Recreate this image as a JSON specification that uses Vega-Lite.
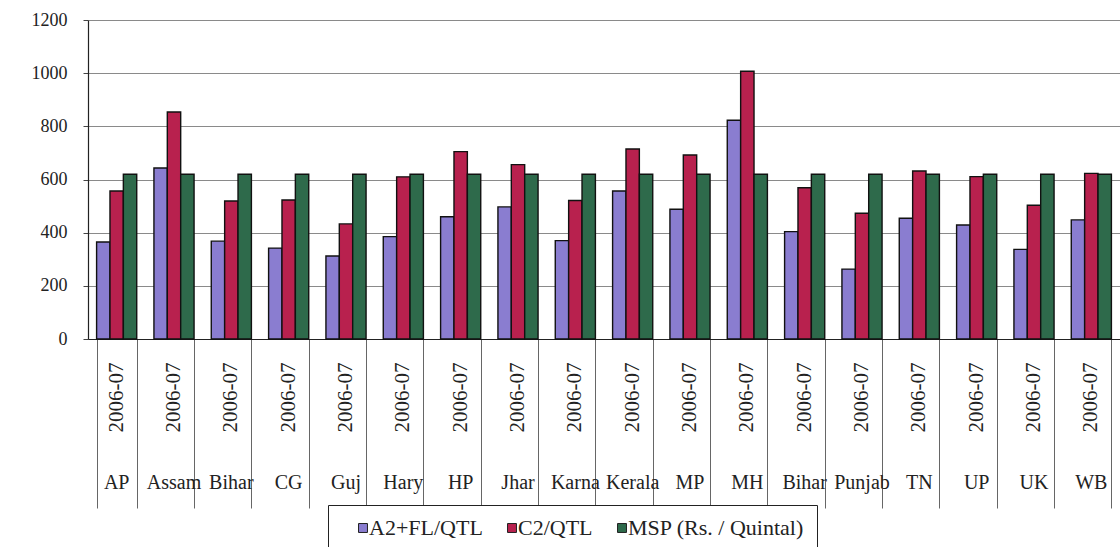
{
  "$schema": "https://vega.github.io/schema/vega-lite/v6.json",
  "autosize": "none",
  "padding": {"left": 88, "top": 20, "right": 0, "bottom": 208},
  "width": 1032,
  "height": 319,
  "background": "white",
  "config": {
    "view": {"stroke": null},
    "font": "Liberation Serif"
  },
  "data": {
    "values": [
      {"state": "AP", "series": "A2+FL/QTL", "value": 365},
      {"state": "AP", "series": "C2/QTL", "value": 557},
      {"state": "AP", "series": "MSP (Rs. / Quintal)", "value": 620},
      {"state": "Assam", "series": "A2+FL/QTL", "value": 643},
      {"state": "Assam", "series": "C2/QTL", "value": 854},
      {"state": "Assam", "series": "MSP (Rs. / Quintal)", "value": 620},
      {"state": "Bihar", "series": "A2+FL/QTL", "value": 368},
      {"state": "Bihar", "series": "C2/QTL", "value": 519},
      {"state": "Bihar", "series": "MSP (Rs. / Quintal)", "value": 620},
      {"state": "CG", "series": "A2+FL/QTL", "value": 342},
      {"state": "CG", "series": "C2/QTL", "value": 523},
      {"state": "CG", "series": "MSP (Rs. / Quintal)", "value": 620},
      {"state": "Guj", "series": "A2+FL/QTL", "value": 312},
      {"state": "Guj", "series": "C2/QTL", "value": 433},
      {"state": "Guj", "series": "MSP (Rs. / Quintal)", "value": 620},
      {"state": "Hary", "series": "A2+FL/QTL", "value": 385},
      {"state": "Hary", "series": "C2/QTL", "value": 610},
      {"state": "Hary", "series": "MSP (Rs. / Quintal)", "value": 620},
      {"state": "HP", "series": "A2+FL/QTL", "value": 460},
      {"state": "HP", "series": "C2/QTL", "value": 705},
      {"state": "HP", "series": "MSP (Rs. / Quintal)", "value": 620},
      {"state": "Jhar", "series": "A2+FL/QTL", "value": 497},
      {"state": "Jhar", "series": "C2/QTL", "value": 656},
      {"state": "Jhar", "series": "MSP (Rs. / Quintal)", "value": 620},
      {"state": "Karna", "series": "A2+FL/QTL", "value": 370},
      {"state": "Karna", "series": "C2/QTL", "value": 521},
      {"state": "Karna", "series": "MSP (Rs. / Quintal)", "value": 620},
      {"state": "Kerala", "series": "A2+FL/QTL", "value": 557},
      {"state": "Kerala", "series": "C2/QTL", "value": 715},
      {"state": "Kerala", "series": "MSP (Rs. / Quintal)", "value": 620},
      {"state": "MP", "series": "A2+FL/QTL", "value": 488},
      {"state": "MP", "series": "C2/QTL", "value": 692},
      {"state": "MP", "series": "MSP (Rs. / Quintal)", "value": 620},
      {"state": "MH", "series": "A2+FL/QTL", "value": 823},
      {"state": "MH", "series": "C2/QTL", "value": 1007},
      {"state": "MH", "series": "MSP (Rs. / Quintal)", "value": 620},
      {"state": "Bihar#2", "series": "A2+FL/QTL", "value": 404},
      {"state": "Bihar#2", "series": "C2/QTL", "value": 569},
      {"state": "Bihar#2", "series": "MSP (Rs. / Quintal)", "value": 620},
      {"state": "Punjab", "series": "A2+FL/QTL", "value": 263},
      {"state": "Punjab", "series": "C2/QTL", "value": 473},
      {"state": "Punjab", "series": "MSP (Rs. / Quintal)", "value": 620},
      {"state": "TN", "series": "A2+FL/QTL", "value": 454},
      {"state": "TN", "series": "C2/QTL", "value": 632},
      {"state": "TN", "series": "MSP (Rs. / Quintal)", "value": 620},
      {"state": "UP", "series": "A2+FL/QTL", "value": 429},
      {"state": "UP", "series": "C2/QTL", "value": 611},
      {"state": "UP", "series": "MSP (Rs. / Quintal)", "value": 620},
      {"state": "UK", "series": "A2+FL/QTL", "value": 337},
      {"state": "UK", "series": "C2/QTL", "value": 503},
      {"state": "UK", "series": "MSP (Rs. / Quintal)", "value": 620},
      {"state": "WB", "series": "A2+FL/QTL", "value": 448},
      {"state": "WB", "series": "C2/QTL", "value": 623},
      {"state": "WB", "series": "MSP (Rs. / Quintal)", "value": 620}
    ]
  },
  "resolve": {"axis": {"x": "independent"}},
  "layer": [
    {
      "mark": {"type": "rule", "opacity": 0},
      "encoding": {
        "x": {
          "field": "state",
          "type": "nominal",
          "sort": null,
          "scale": {"paddingInner": 0.3, "paddingOuter": 0.15},
          "axis": {
            "orient": "bottom",
            "title": null,
            "domain": false,
            "labels": false,
            "ticks": true,
            "tickBand": "extent",
            "tickSize": 169,
            "tickColor": "#666",
            "tickWidth": 1,
            "grid": false
          }
        }
      }
    },
    {
      "mark": {"type": "bar", "stroke": "#111", "strokeWidth": 1.4},
      "encoding": {
        "x": {
          "field": "state",
          "type": "nominal",
          "sort": null,
          "axis": {
            "orient": "bottom",
            "title": null,
            "domain": true,
            "domainColor": "#222",
            "domainWidth": 1.2,
            "ticks": false,
            "labelExpr": "'2006-07'",
            "labelAngle": -90,
            "labelAlign": "right",
            "labelBaseline": "middle",
            "labelFont": "Liberation Serif",
            "labelFontSize": 21,
            "labelColor": "#222",
            "labelPadding": 23,
            "grid": false
          }
        },
        "xOffset": {
          "field": "series",
          "type": "nominal",
          "sort": ["A2+FL/QTL", "C2/QTL", "MSP (Rs. / Quintal)"],
          "scale": {"paddingInner": 0, "paddingOuter": 0}
        },
        "y": {
          "field": "value",
          "type": "quantitative",
          "scale": {"domain": [0, 1200], "nice": false},
          "axis": {
            "title": null,
            "values": [0, 200, 400, 600, 800, 1000, 1200],
            "format": "d",
            "domain": true,
            "domainColor": "#222",
            "domainWidth": 1.2,
            "tickColor": "#444",
            "tickSize": 5,
            "labelFont": "Liberation Serif",
            "labelFontSize": 18,
            "labelColor": "#222",
            "labelPadding": 16,
            "grid": true,
            "gridColor": "#8a8a8a",
            "gridWidth": 1
          }
        },
        "color": {
          "field": "series",
          "type": "nominal",
          "scale": {
            "domain": ["A2+FL/QTL", "C2/QTL", "MSP (Rs. / Quintal)"],
            "range": ["#8a7dd0", "#b8214e", "#2e6a4b"]
          },
          "legend": {
            "orient": "none",
            "legendX": 240,
            "legendY": 485,
            "direction": "horizontal",
            "title": null,
            "strokeColor": "#222",
            "fillColor": "white",
            "padding": 12,
            "symbolType": "square",
            "symbolSize": 80,
            "symbolStrokeColor": "#222",
            "symbolStrokeWidth": 1,
            "symbolOpacity": 1,
            "symbolOffset": 12,
            "labelFont": "Liberation Serif",
            "labelFontSize": 22,
            "labelColor": "#222",
            "labelOffset": -5,
            "labelLimit": 400,
            "columnPadding": 6
          }
        }
      }
    },
    {
      "mark": {"type": "rule", "opacity": 0},
      "encoding": {
        "x": {
          "field": "state",
          "type": "nominal",
          "sort": null,
          "axis": {
            "orient": "bottom",
            "title": null,
            "domain": false,
            "ticks": false,
            "grid": false,
            "labelExpr": "split(datum.label, '#')[0]",
            "labelAngle": 0,
            "labelAlign": "center",
            "labelBaseline": "top",
            "labelFont": "Liberation Serif",
            "labelFontSize": 20,
            "labelColor": "#222",
            "labelPadding": 133
          }
        }
      }
    }
  ]
}
